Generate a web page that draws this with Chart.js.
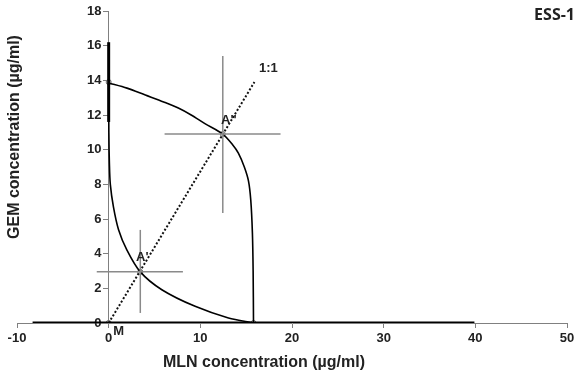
<!DOCTYPE html>
<html>
<head>
<meta charset="utf-8">
<script src="https://cdn.jsdelivr.net/npm/chart.js@4.4.1/dist/chart.umd.min.js"></script>
<style>
  html, body { margin: 0; padding: 0; background: #fff; }
  #wrap { width: 582px; height: 378px; }
</style>
</head>
<body>
<div id="wrap"><canvas id="myChart"></canvas></div>
<script>
// data block: isoboles (MLN, GEM in ug/ml)
const upperIsobole = [
  [0, 13.85], [2, 13.55], [4, 13.15], [6, 12.75], [7.6, 12.4], [9, 12.0],
  [10.5, 11.5], [12.45, 10.9], [13.5, 10.3], [14.15, 9.8], [14.8, 9.0],
  [15.25, 8.2], [15.5, 7.1], [15.68, 5.2], [15.76, 3.0], [15.8, 0]
];
const lowerIsobole = [
  [0, 13.9], [0.02, 11], [0.08, 9.2], [0.18, 8.0], [0.52, 6.7], [1.07, 5.4],
  [1.98, 4.22], [3.45, 2.95], [5.8, 1.92], [9.43, 0.96], [13.07, 0.29], [15.8, 0]
];
const lineOfAdditivity = [[0, 0], [15.9, 13.9]];
const markerPoints = [[0, 13.9], [0, 0], [15.8, 0], [3.45, 2.95], [12.45, 10.9]];
// error bars: [x1, y1, x2, y2]
const greyErrorBars = [
  [-1.3, 2.95, 8.1, 2.95], [3.45, 0.58, 3.45, 5.37],
  [6.1, 10.9, 18.75, 10.9], [12.45, 6.35, 12.45, 15.4]
];
const blackErrorBars = [
  [0, 11.6, 0, 16.2], [-8.3, 0, 39.9, 0]
];
const pointLabels = [
  { text: "A'", x: 3.45, y: 2.95 },
  { text: "A''", x: 12.45, y: 10.9 },
  { text: "M", x: 0, y: 0 },
  { text: "1:1", x: 15.9, y: 13.9 }
];
const xTickValues = [-10, 0, 10, 20, 30, 40, 50];
const yTickValues = [0, 2, 4, 6, 8, 10, 12, 14, 16, 18];

const toXY = arr => arr.map(p => ({ x: p[0], y: p[1] }));
const segment = s => [{ x: s[0], y: s[1] }, { x: s[2], y: s[3] }];

const datasets = [];
greyErrorBars.forEach(s => datasets.push({
  data: segment(s), showLine: true, borderColor: '#8a8a8a', borderWidth: 1.5,
  pointRadius: 0, fill: false
}));
blackErrorBars.forEach(s => datasets.push({
  data: segment(s), showLine: true, borderColor: '#000', borderWidth: 3,
  pointRadius: 0, fill: false
}));
datasets.push({
  data: toXY(lineOfAdditivity), showLine: true, borderColor: '#111', borderWidth: 2,
  borderDash: [2, 2], pointRadius: 0
});
datasets.push({
  data: toXY(upperIsobole), showLine: true, borderColor: '#000', borderWidth: 1.6,
  pointRadius: 0, tension: 0.3
});
datasets.push({
  data: toXY(lowerIsobole), showLine: true, borderColor: '#000', borderWidth: 1.6,
  pointRadius: 0, tension: 0.3
});
datasets.push({
  data: toXY(markerPoints), showLine: false, pointRadius: 2.5,
  pointBackgroundColor: '#fff', pointBorderColor: '#666', pointBorderWidth: 1
});

// labels + axis titles drawn on top
const annotations = {
  id: 'annotations',
  afterDraw: (chart) => {
    const { ctx, scales: { x, y } } = chart;
    ctx.save();
    ctx.fillStyle = '#222';
    ctx.font = "bold 13px 'Liberation Sans', Arial";
    ctx.textAlign = 'center';
    ctx.textBaseline = 'middle';
    const offsets = { "A'": [2, -14], "A''": [6, -14], "M": [10, 8], "1:1": [14, -14] };
    pointLabels.forEach(l => {
      const o = offsets[l.text];
      ctx.fillText(l.text, x.getPixelForValue(l.x) + o[0], y.getPixelForValue(l.y) + o[1]);
    });
    ctx.font = "bold 16px 'Open Sans', sans-serif";
    ctx.textAlign = 'right';
    ctx.fillText('ESS-1', 575, 15);
    // axis titles
    ctx.font = "bold 16px 'Liberation Sans', Arial";
    ctx.textAlign = 'center';
    ctx.fillText('MLN concentration (\u00b5g/ml)', 264, 363);
    ctx.translate(15, 137);
    ctx.rotate(-Math.PI / 2);
    ctx.fillText('GEM concentration (\u00b5g/ml)', 0, 0);
    ctx.restore();
  }
};

const tickFont = { family: "'Liberation Sans', Arial", size: 13, weight: 'bold' };

const config = {
  type: 'scatter',
  data: { datasets },
  options: {
    responsive: true,
    maintainAspectRatio: false,
    animation: false,
    layout: { padding: { left: 17, right: 15, top: 11, bottom: 0 } },
    plugins: { legend: { display: false }, tooltip: { enabled: false } },
    scales: {
      x: {
        type: 'linear', min: -10, max: 50,
        afterBuildTicks: s => { s.ticks = xTickValues.map(v => ({ value: v })); },
        afterFit: s => { s.height = 55; },
        grid: { drawOnChartArea: false, drawTicks: true, tickLength: 5, color: '#808080' },
        border: { color: '#808080', width: 1 },
        ticks: { color: '#222', font: tickFont, padding: 3 }
      },
      y: {
        type: 'linear', min: 0, max: 18, position: { x: 0 },
        afterBuildTicks: s => { s.ticks = yTickValues.map(v => ({ value: v })); },
        grid: { drawOnChartArea: false, drawTicks: true, tickLength: 5, color: '#808080' },
        border: { color: '#808080', width: 1 },
        // centred axis puts labels flush on the line, pad them with spaces
        ticks: { color: '#222', font: tickFont, callback: v => v + '  ' }
      }
    }
  },
  plugins: [annotations]
};

const myChart = new Chart(document.getElementById('myChart'), config);
</script>
</body>
</html>
